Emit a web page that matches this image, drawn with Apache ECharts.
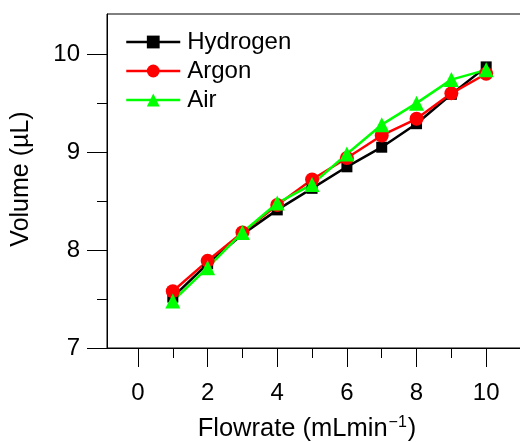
<!DOCTYPE html>
<html>
<head>
<meta charset="utf-8">
<script src="https://cdn.jsdelivr.net/npm/echarts@6/dist/echarts.min.js"></script>
<style>
  html, body { margin: 0; padding: 0; background: #fff; }
  #main { width: 520px; height: 442px; }
</style>
</head>
<body>
<div id="main"></div>
<script>
// flowrate (mL/min)
var flowrate = [1, 2, 3, 4, 5, 6, 7, 8, 9, 10];
// volume (uL) per gas
var hydrogen = [7.52, 7.86, 8.16, 8.41, 8.63, 8.85, 9.05, 9.29, 9.59, 9.87];
var argon = [7.58, 7.89, 8.18, 8.46, 8.72, 8.94, 9.17, 9.34, 9.60, 9.80];
var air = [7.48, 7.82, 8.18, 8.48, 8.67, 8.98, 9.28, 9.50, 9.74, 9.84];

var xMajor = [0, 2, 4, 6, 8, 10];
var xMinor = [1, 3, 5, 7, 9];
var yMajor = [7, 8, 9, 10];
var yMinor = [7.5, 8.5, 9.5];

function pairs(ys) {
  return flowrate.map(function (x, i) { return [x, ys[i]]; });
}

var font = 'Liberation Sans, Arial, sans-serif';
var dom = document.getElementById('main');
var myChart = echarts.init(dom, null, { renderer: 'canvas' });

var option = {
  animation: false,
  textStyle: { fontFamily: font, color: '#000' },
  grid: {
    left: 107, top: 14, right: -1, bottom: 94,
    show: true, borderColor: '#000', borderWidth: 1,
    containLabel: false, outerBoundsMode: 'none'
  },
  legend: {
    orient: 'vertical',
    left: 125, top: 30, padding: 0,
    itemWidth: 54, itemHeight: 16, itemGap: 5,
    lineStyle: { width: 2.5 },
    textStyle: { fontSize: 24, color: '#000', fontFamily: font, padding: [0, 0, 0, 2] },
    data: ['Hydrogen', 'Argon', 'Air']
  },
  xAxis: [
    {
      type: 'value', min: -0.89, max: 11,
      axisLine: { show: true, onZero: false, lineStyle: { color: '#000', width: 1 } },
      axisTick: { show: true, customValues: xMajor, length: 19, lineStyle: { color: '#000' } },
      axisLabel: { customValues: xMajor, fontSize: 24, color: '#000', margin: 33, fontFamily: font },
      splitLine: { show: false },
      name: 'Flowrate (mLmin{sup|\u22121})',
      nameLocation: 'middle', nameGap: 67,
      nameTextStyle: {
        fontSize: 25.5, color: '#000', fontFamily: font, padding: [0, 14, 0, 0],
        rich: { sup: { fontSize: 16, padding: [0, 1, 12, 1], color: '#000', fontFamily: font } }
      }
    },
    {
      type: 'value', min: -0.89, max: 11, position: 'bottom',
      axisLine: { show: false, onZero: false },
      axisTick: { show: true, customValues: xMinor, length: 10, lineStyle: { color: '#000' } },
      axisLabel: { show: false },
      splitLine: { show: false }
    }
  ],
  yAxis: [
    {
      type: 'value', min: 7, max: 10.41,
      axisLine: { show: true, onZero: false, lineStyle: { color: '#000', width: 1 } },
      axisTick: { show: true, customValues: yMajor, length: 20, lineStyle: { color: '#000' } },
      axisLabel: { customValues: yMajor, fontSize: 24, color: '#000', margin: 27, fontFamily: font },
      splitLine: { show: false },
      name: 'Volume (\u00b5L)',
      nameLocation: 'middle', nameGap: 73,
      nameTextStyle: { fontSize: 25, color: '#000', fontFamily: font, padding: [0, 0, 0, 4] }
    },
    {
      type: 'value', min: 7, max: 10.41, position: 'left',
      axisLine: { show: false, onZero: false },
      axisTick: { show: true, customValues: yMinor, length: 10, lineStyle: { color: '#000' } },
      axisLabel: { show: false },
      splitLine: { show: false }
    }
  ],
  series: [
    {
      name: 'Hydrogen', type: 'line', data: pairs(hydrogen),
      symbol: 'rect', symbolSize: 11,
      color: '#000', lineStyle: { width: 2.5, color: '#000' },
      itemStyle: { color: '#000' }
    },
    {
      name: 'Argon', type: 'line', data: pairs(argon),
      symbol: 'circle', symbolSize: 14,
      color: '#ff0000', lineStyle: { width: 2.5, color: '#ff0000' },
      itemStyle: { color: '#ff0000' }
    },
    {
      name: 'Air', type: 'line', data: pairs(air),
      symbol: 'triangle', symbolSize: 15,
      color: '#00ff00', lineStyle: { width: 2.5, color: '#00ff00' },
      itemStyle: { color: '#00ff00' }
    }
  ]
};

myChart.setOption(option);
</script>
</body>
</html>
